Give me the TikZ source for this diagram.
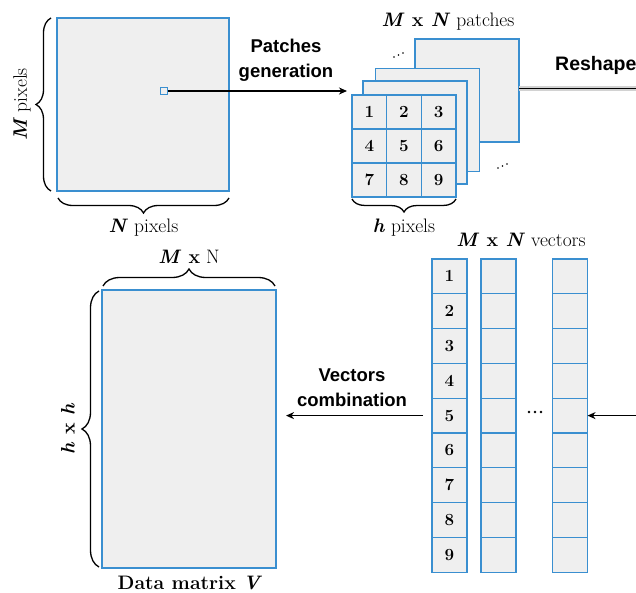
\documentclass[tikz,border=0pt]{standalone}
\usepackage{fontspec}
\newfontfamily\arialfont{Liberation Sans}
\usetikzlibrary{arrows.meta,decorations.pathreplacing}
\definecolor{bblue}{HTML}{3A8FD0}
\definecolor{bfill}{HTML}{EFEFEF}
\tikzset{
  box/.style={draw=bblue, fill=bfill, line width=1.3pt, inner sep=0pt, outer sep=0pt},
  cellbox/.style={box, minimum width=34.67pt, minimum height=34pt, font=\bfseries\fontsize{17}{17}\selectfont},
  vecbox/.style={box, minimum width=35pt, minimum height=34.8pt, font=\bfseries\fontsize{17}{17}\selectfont},
  layerbox/.style={box, minimum width=104pt, minimum height=103pt},
  arr/.style={line width=1.3pt, -{Stealth[length=8pt,width=7pt,inset=2.5pt]}},
  bracedeco/.style={decorate, line width=1.3pt, decoration={brace, amplitude=#1}},
  sanslbl/.style={font=\arialfont\bfseries\fontsize{18.5}{25}\selectfont, align=center, inner sep=0pt},
  seriflbl/.style={font=\fontsize{19.5}{19.5}\selectfont, inner sep=0pt},
  dotmark/.style={fill=black, circle, inner sep=0pt, minimum size=1.6pt},
  hdot/.style={fill=black, circle, inner sep=0pt, minimum size=2.6pt}
}
\begin{document}
\begin{tikzpicture}[x=1pt,y=-1pt]
\useasboundingbox (0,0) rectangle (636,593);
% input image
\node[box, minimum width=172pt, minimum height=173pt] (img) at (143,104.5) {};
\node[box, line width=1.1pt, minimum width=7pt, minimum height=7pt] (pix) at (164,91) {};
\draw[bracedeco=15pt] (51,191) -- (51,18) node[midway, xshift=-29pt, rotate=90, seriflbl] (mlbl) {\textbf{\textit{M}} pixels};
\draw[bracedeco=15pt] (229,198) -- (58,198) node[midway, yshift=-30pt, seriflbl] (nlbl) {\textbf{\textit{N}} pixels};
% patches
\node[layerbox] (l4) at (467,90.5) {};
\node[layerbox] (l3) at (427.5,120) {};
\node[layerbox] (l2) at (415,132.5) {};
\foreach \i/\j/\n in {0/0/1,1/0/2,2/0/3,0/1/4,1/1/5,2/1/6,0/2/7,1/2/8,2/2/9}{
  \node[cellbox] (c\n) at ({369.33+\i*34.67},{112+\j*34}) {\n};
}
\node[dotmark] (d1) at (394,57) {};
\node[dotmark] (d2) at (398.5,55) {};
\node[dotmark] (d3) at (403,53) {};
\node[dotmark] (d4) at (498,168) {};
\node[dotmark] (d5) at (502.5,166) {};
\node[dotmark] (d6) at (507,164) {};
\node[seriflbl] (pl) at (448,22) {\textbf{\textit{M} x \textit{N}} patches};
\draw[bracedeco=13pt] (456,199) -- (352,199) node[midway, yshift=-29pt, seriflbl] (hl) {\textbf{\textit{h}} pixels};
% patches generation arrow
\coordinate (pin) at (347,91);
\draw[arr] (pix.east) -- (pin);
\node[sanslbl] (pg) at (286,60) {Patches\\generation};
% reshape
\coordinate (rend) at (640,88.5);
\draw[line width=4.5pt, gray!35] (l4.east |- rend) -- (rend);
\draw[line width=1.4pt] (l4.east |- rend) -- (rend);
\node[sanslbl, anchor=west, font=\arialfont\bfseries\fontsize{19.5}{25}\selectfont] (rs) at (555,65) {Reshape};
% vectors
\foreach \k in {1,...,9}{
  \node[vecbox] (va\k) at (449.5,{276.4+(\k-1)*34.8}) {\k};
  \node[vecbox] (vb\k) at (498.5,{276.4+(\k-1)*34.8}) {};
  \node[vecbox] (vc\k) at (570,{276.4+(\k-1)*34.8}) {};
}
\node[seriflbl] (vl) at (521,240) {\textbf{\textit{M} x \textit{N}} vectors};
\node[hdot] (e1) at (529,412) {};
\node[hdot] (e2) at (535,412) {};
\node[hdot] (e3) at (541,412) {};
\coordinate (vin) at (640,415.6);
\draw[arr] (vin) -- (vc5.east);
% data matrix
\node[box, minimum width=174pt, minimum height=278pt] (dm) at (189,429) {};
\draw[bracedeco=17pt] (103,286) -- (275,286) node[midway, yshift=29pt, seriflbl] (mnl) {\textbf{\textit{M} x} N};
\draw[bracedeco=17pt] (99,567) -- (99,291) node[midway, xshift=-31pt, rotate=90, seriflbl] (hhl) {\textbf{\textit{h} x \textit{h}}};
\node[seriflbl] (dml) at (190,583) {\textbf{Data matrix \textit{V}}};
\draw[arr, shorten <=9pt, shorten >=10pt] (va5.west) -- (dm.east |- va5.west);
\node[sanslbl] (vcomb) at (352,388) {Vectors\\combination};
\end{tikzpicture}
\end{document}
